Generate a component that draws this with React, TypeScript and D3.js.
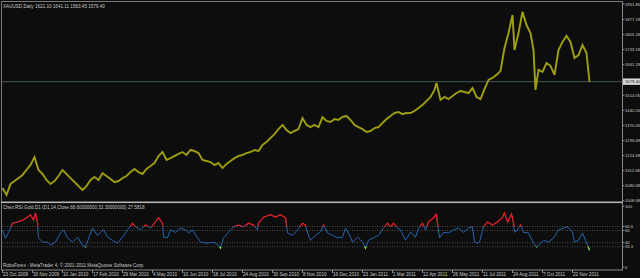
import React from "react";
import * as d3 from "d3";

// ---- data (bar index = trading bar number from 23 Oct 2009) ----
const priceBars = [0,4,8,12,16,20,24,28,32,36,40,44,48,52,56,60,64,68,72,76,80,84,88,92,96,100,104,108,112,116,120,124,128,132,136,140,144,148,152,156,160,164,168,172,176,180,184,188,192,196,200,204,208,212,216,220,224,228,232,236,240,244,248,252,256,260,264,268,272,276,280,284,288,292,296,300,304,308,312,316,320,324,328,332,336,340,344,348,352,356,360,364,368,372,376,380,384,388,392,396,400,404,408,412,416,420,424,428,432,434,438,442,446,450,454,458,462,466,470,474,478,482,486,490,494,498,502,506,510,512,516,520,524,528,531,533,536,540,544,548,552,556,560,564,568,572,576,580,584,587];
const closes = [1069,1036,1089,1103,1117,1132,1156,1180,1218,1156,1137,1108,1089,1103,1127,1156,1137,1117,1098,1079,1060,1079,1108,1122,1108,1141,1127,1113,1098,1103,1117,1127,1146,1161,1146,1137,1161,1175,1189,1223,1242,1204,1213,1223,1233,1242,1228,1252,1247,1237,1204,1199,1194,1180,1189,1165,1185,1199,1213,1223,1228,1237,1242,1252,1247,1276,1290,1309,1328,1352,1372,1348,1333,1343,1352,1405,1372,1362,1372,1362,1410,1391,1386,1400,1396,1410,1415,1396,1372,1362,1352,1338,1343,1357,1362,1381,1400,1415,1429,1434,1424,1429,1429,1439,1453,1468,1487,1506,1540,1573,1492,1506,1496,1511,1525,1535,1530,1525,1549,1506,1496,1544,1588,1597,1612,1631,1741,1813,1899,1731,1813,1914,1851,1813,1731,1540,1636,1626,1669,1655,1612,1731,1770,1799,1770,1693,1707,1755,1717,1579];

const rsiBars = [0,3,6,10,15,20,25,28,31,33,35,36,40,45,48,53,58,61,65,70,75,80,83,86,90,95,98,101,105,110,115,120,125,130,133,138,143,148,153,156,160,161,165,168,173,178,183,186,190,195,198,205,211,216,218,221,226,231,236,241,246,251,255,256,261,268,273,278,283,285,290,295,300,303,305,308,313,318,321,325,330,335,340,343,346,350,355,360,363,366,371,376,381,385,388,391,395,398,403,408,413,416,420,423,426,431,434,435,437,441,446,451,456,461,466,470,472,475,477,481,485,490,495,500,502,505,509,511,512,515,518,521,526,531,534,536,541,546,551,556,561,565,570,572,576,580,583,585,587];
const rsiValues = [61,47,57,72,74,77,82,86,77,89,72,48,41,41,36,41,56,61,48,41,49,36,33,47,64,52,57,61,49,44,39,49,61,72,66,61,69,64,74,81,72,49,48,61,57,64,61,56,61,48,41,39,41,36,31,48,57,66,69,66,72,69,61,72,82,86,82,86,81,56,52,61,72,69,56,44,52,58,69,56,52,48,49,64,56,41,49,41,31,44,48,52,64,72,66,72,64,61,44,57,49,64,72,61,74,81,87,72,48,57,56,61,64,57,64,66,41,39,41,66,74,69,74,82,89,74,87,72,57,61,69,57,56,39,33,36,44,41,48,61,64,66,57,41,44,56,44,36,27.58];

const priceTicks = [1008.68,1080.68,1152.68,1224.68,1296.68,1370.05,1442.05,1514.05,1661.18,1733.18,1805.18,1877.18,1951.85];
const lastPrice = 1579.4;
const rsiLevels = [66.6,60,40,33.3];
const rsiAxisTicks = [100,66.6,60,40,33.3,0];
const dateTickBars = [0,30,60,90,120,150,180,210,240,270,300,330,360,390,420,450,480,510,540,570];
const dateLabels = ["23 Oct 2009","30 Nov 2009","10 Jan 2010","17 Feb 2010","29 Mar 2010","4 May 2010","10 Jun 2010","18 Jul 2010","24 Aug 2010","30 Sep 2010","8 Nov 2010","16 Dec 2010","23 Jan 2011","1 Mar 2011","12 Apr 2011","26 May 2011","11 Jul 2011","24 Aug 2011","7 Oct 2011","22 Nov 2011"];
const headerText = "XAUUSD,Daily  1621.10 1641.11 1563.45 1579.40";
const rsiTitle = "Chez.RSI.Gold.D1 (D1,14,Close,66.60000000,33.30000000) 27.5818";
const copyright = "RoboForex - MetaTrader 4, \u00A9 2001-2011 MetaQuotes Software Corp.";

const W = 640, H = 278;
const AXIS_X = 622.5;
const FONT = "'Liberation Sans', Arial, sans-serif";
const FS = 4.6;
const AFS = 4.2;
const TXT = "#c8c8c8";

export default function App() {
  const x = d3.scaleLinear().domain([0, 587]).range([2.5, 589.5]);
  const y = d3.scaleLinear().domain([1008.68, 1951.85]).range([200.7, 4]);
  const yr = d3.scaleLinear().domain([0, 100]).range([267, 206.2]);

  const priceLine = d3.line<number>().x((_, i) => x(priceBars[i])).y((d) => y(d)).curve(d3.curveLinear);
  const rsiLine = d3.line<number>().x((_, i) => x(rsiBars[i])).y((d) => yr(d)).curve(d3.curveLinear);
  const pPath = priceLine(closes) || "";
  const rPath = rsiLine(rsiValues) || "";

  return (
    <svg width={W} height={H} style={{ position: "absolute", left: 0, top: 0, background: "#0d0d0d" }}
      fontFamily={FONT} fontSize={FS}>
      <defs>
        <clipPath id="hiClip"><rect x={0} y={203} width={AXIS_X} height={yr(66.6) - 203} /></clipPath>
        <clipPath id="loClip"><rect x={0} y={yr(33.3)} width={AXIS_X} height={270 - yr(33.3)} /></clipPath>
        <clipPath id="mainClip"><rect x={2} y={2} width={AXIS_X - 2} height={199} /></clipPath>
      </defs>
      <rect x={0} y={0} width={W} height={H} fill="#0d0d0d" />

      {/* frame */}
      <line x1={1.5} y1={1} x2={1.5} y2={270} stroke="#7a7a7a" strokeWidth={1} />
      <line x1={1} y1={1.5} x2={AXIS_X} y2={1.5} stroke="#7a7a7a" strokeWidth={1} />
      <line x1={AXIS_X} y1={1} x2={AXIS_X} y2={270.5} stroke="#8a8a8a" strokeWidth={1} />
      <rect x={1} y={201.5} width={AXIS_X - 1} height={1.6} fill="#b4b4b4" />
      <line x1={1} y1={270} x2={AXIS_X} y2={270} stroke="#8a8a8a" strokeWidth={1} />

      {/* current price line */}
      <line x1={2} y1={y(lastPrice)} x2={AXIS_X} y2={y(lastPrice)} stroke="#44565c" strokeWidth={1} />

      {/* price series */}
      <g clipPath="url(#mainClip)">
        <path d={pPath} fill="none" stroke="#8e8e0c" strokeWidth={2} strokeLinejoin="miter" strokeMiterlimit={3} />
        <path d={pPath} fill="none" stroke="#a9a916" strokeWidth={0.8} />
      </g>

      {/* price axis */}
      {priceTicks.map((p) => (
        <g key={p}>
          <line x1={AXIS_X} x2={AXIS_X + 2} y1={y(p)} y2={y(p)} stroke="#8a8a8a" />
          <text x={625} y={y(p) + 1.5} fill={TXT} fontSize={AFS}>{p.toFixed(2)}</text>
        </g>
      ))}
      <rect x={623} y={y(lastPrice) - 3.2} width={17} height={6.4} fill="#d8d8d8" />
      <text x={625} y={y(lastPrice) + 1.5} fill="#111" fontSize={AFS}>{lastPrice.toFixed(2)}</text>

      {/* header */}
      <text x={3} y={7.5} fill={TXT}>{headerText}</text>

      {/* RSI levels */}
      {rsiLevels.map((l) => (
        <line key={l} x1={2} x2={AXIS_X} y1={yr(l)} y2={yr(l)} stroke="#5c5c5c" strokeWidth={0.8} strokeDasharray="1,1.5" />
      ))}

      {/* RSI lines */}
      <path d={rPath} fill="none" stroke="#2366b0" strokeWidth={1} />
      <path d={rPath} fill="none" stroke="#ee1a1a" strokeWidth={1.2} clipPath="url(#hiClip)" />
      <path d={rPath} fill="none" stroke="#8ee82a" strokeWidth={1.2} clipPath="url(#loClip)" />

      {/* RSI axis */}
      {rsiAxisTicks.map((v) => (
        <g key={v}>
          <line x1={AXIS_X} x2={AXIS_X + 2} y1={yr(v)} y2={yr(v)} stroke="#8a8a8a" />
          <text x={625} y={yr(v) + 1.5} fill={TXT} fontSize={AFS}>{String(v)}</text>
        </g>
      ))}
      <text x={3} y={209} fill={TXT}>{rsiTitle}</text>
      <text x={3} y={267} fill={TXT}>{copyright}</text>

      {/* date axis */}
      {dateTickBars.map((b, i) => (
        <g key={b}>
          <line x1={x(b)} x2={x(b)} y1={270} y2={273} stroke="#8a8a8a" />
          <text x={x(b) + 0.5} y={276} fill={TXT}>{dateLabels[i]}</text>
        </g>
      ))}
    </svg>
  );
}
